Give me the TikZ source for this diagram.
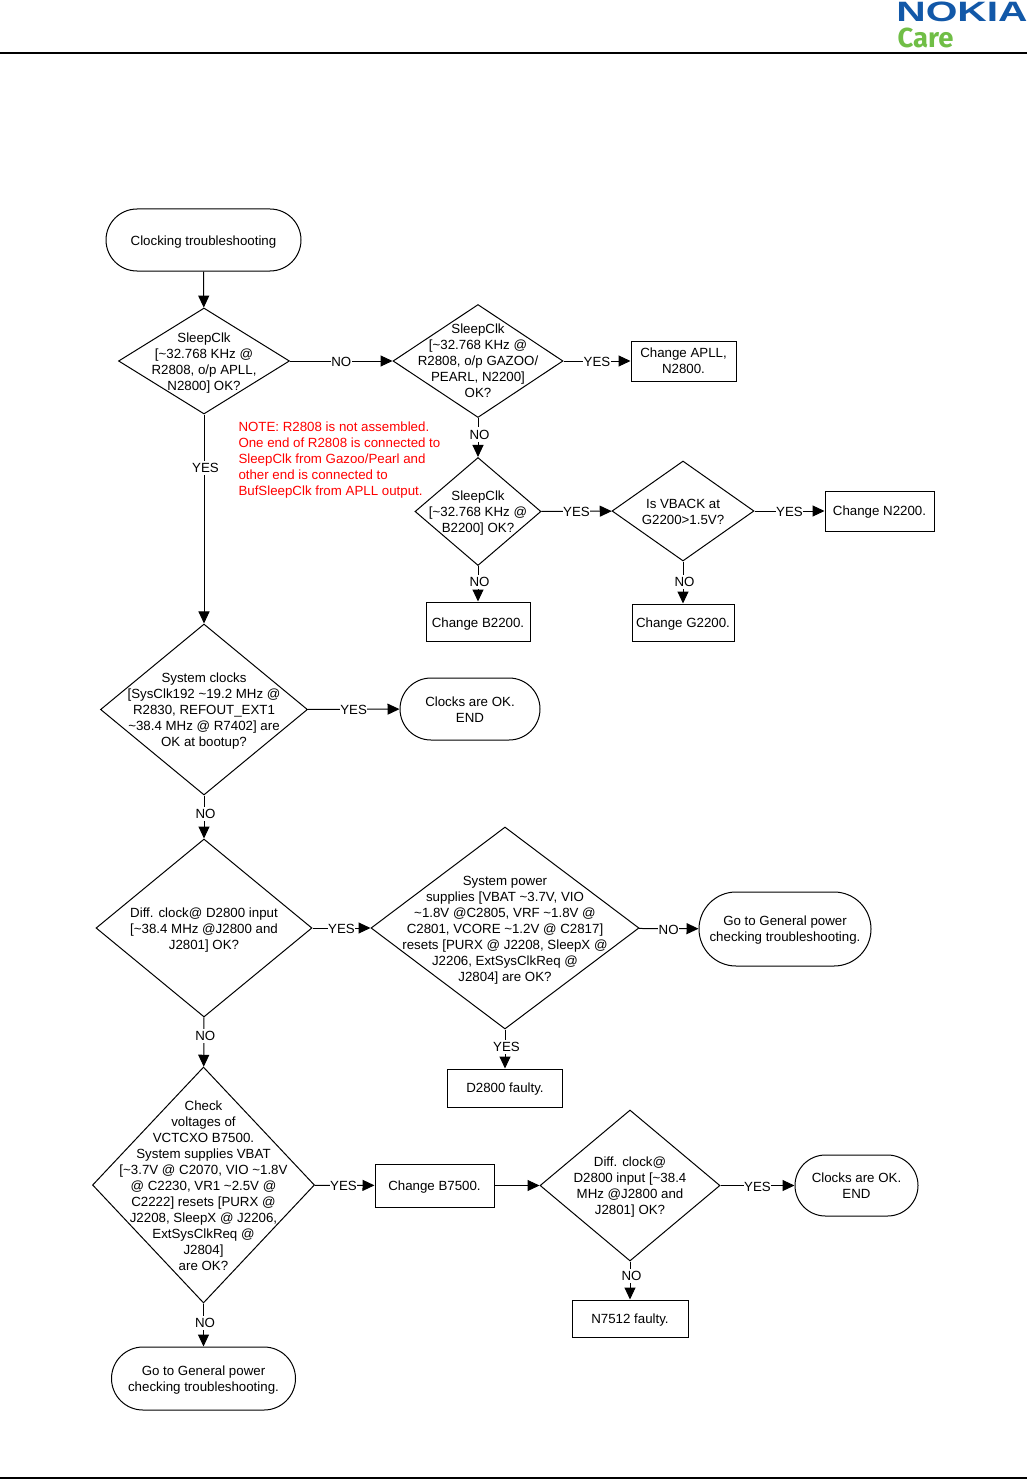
\documentclass[tikz,border=0pt]{standalone}
\usepackage{fontspec}
\setmainfont{Liberation Sans}
\newfontfamily\carefont{Fira Sans}
\usetikzlibrary{shapes.geometric,shapes.misc,arrows.meta}
\definecolor{nokiablue}{RGB}{18,88,168}
\definecolor{caregreen}{RGB}{112,190,70}
\tikzset{
  x=1pt,y=-1pt,
  every node/.style={font=\fontsize{13.3}{16}\selectfont,align=center,inner sep=0pt,line width=1pt},
  txt/.style={align=center,inner sep=0pt,yshift={(#1-1.5)*1pt}},
  dia/.style n args={4}{diamond,draw,minimum width=#1,minimum height=#2,
     label={[txt=#3]center:#4}},
  box/.style n args={4}{rectangle,draw,minimum width=#1,minimum height=#2,
     label={[txt=#3]center:#4}},
  term/.style n args={4}{rounded rectangle,draw,minimum width=#1,minimum height=#2,rounded rectangle arc length=180,
     label={[txt=#3]center:#4}},
  flow/.style={line width=1pt,-{Triangle[length=12pt,width=11pt]}},
  lab/.style={fill=white,inner xsep=0.5pt,inner ysep=0.5pt,yshift=-1pt},
  vlab/.style={lab,xshift=1.5pt,inner ysep=2.5pt},
  note/.style={text=red,align=left,anchor=north west},
  rulebar/.style={line width=2pt}
}
\begin{document}
\begin{tikzpicture}
\useasboundingbox (0,0) rectangle (1027,1479);
\fill[white] (0,0) rectangle (1027,1479);
% header / footer
\coordinate (tl) at (0,53); \coordinate (tr) at (1027,53);
\coordinate (bl) at (0,1478); \coordinate (br) at (1027,1478);
\draw[rulebar] (tl) -- (tr);
\draw[rulebar] (bl) -- (br);
\node[text=nokiablue,font=\fontsize{28}{28}\selectfont\bfseries,anchor=center,xscale=1.455,yscale=1.0] (nokia) at (962,12) {NOKIA};
\node[text=caregreen,font=\fontsize{27.5}{28}\selectfont\carefont\bfseries,anchor=center] (care) at (925.5,38) {Care};
% terminators
\node[term={195}{62}{-1}{Clocking troubleshooting}] (start) at (203.5,240) {};
\node[term={140}{62}{1}{Clocks are OK.\\END}] (ok1) at (470,709) {};
\node[term={172}{74}{0}{Go to General power\\checking troubleshooting.}] (gp1) at (785,929) {};
\node[term={123}{61}{1}{Clocks are OK.\\END}] (ok2) at (856.5,1185.5) {};
\node[term={184}{63}{0}{Go to General power\\checking troubleshooting.}] (gp2) at (203.5,1378.5) {};
% diamonds
\node[dia={171}{106}{-1}{SleepClk\\{}[\textasciitilde32.768 KHz @\\R2808, o/p APLL,\\N2800] OK?}] (a) at (204,361) {};
\node[dia={170}{113}{2}{SleepClk\\{}[\textasciitilde32.768 KHz @\\R2808, o/p GAZOO/\\PEARL, N2200]\\OK?}] (b) at (478,361) {};
\node[dia={126}{108}{0}{SleepClk\\{}[\textasciitilde32.768 KHz @\\B2200] OK?}] (c) at (478,511.5) {};
\node[dia={142}{100}{1}{Is VBACK at\\G2200>1.5V?}] (d) at (683,511) {};
\node[dia={207}{171}{0}{System clocks\\{}[SysClk192 \textasciitilde19.2 MHz @\\R2830, REFOUT\_EXT1\\\textasciitilde38.4 MHz @ R7402] are\\OK at bootup?}] (e) at (204,709.5) {};
\node[dia={216}{178}{-1}{Diff. clock@ D2800 input\\{}[\textasciitilde38.4 MHz @J2800 and\\J2801] OK?}] (f) at (204,928) {};
\node[dia={268}{202}{-1}{System power\\supplies [VBAT \textasciitilde3.7V, VIO\\\textasciitilde1.8V @C2805, VRF \textasciitilde1.8V @\\C2801, VCORE \textasciitilde1.2V @ C2817]\\resets [PURX @ J2208, SleepX @\\J2206, ExtSysClkReq @\\J2804] are OK?}] (g) at (505,928) {};
\node[dia={222}{236}{1}{Check\\voltages of\\VCTCXO B7500.\\System supplies VBAT\\{}[\textasciitilde3.7V @ C2070, VIO \textasciitilde1.8V\\@ C2230, VR1 \textasciitilde2.5V @\\C2222] resets [PURX @\\J2208, SleepX @ J2206,\\ExtSysClkReq @\\J2804]\\are OK?}] (h) at (203.5,1185) {};
\node[dia={180}{151}{0}{Diff. clock@\\D2800 input [\textasciitilde38.4\\MHz @J2800 and\\J2801] OK?}] (i) at (630,1185.5) {};
% boxes
\node[box={105}{40}{2}{Change APLL,\\N2800.}] (r1) at (683.5,361) {};
\node[box={109}{40}{0}{Change N2200.}] (r2) at (879.5,511) {};
\node[box={104}{39}{-1}{Change B2200.}] (r3) at (478,621.5) {};
\node[box={102}{37}{0}{Change G2200.}] (r4) at (683,622.5) {};
\node[box={115}{38}{0}{D2800 faulty.}] (r5) at (505,1088) {};
\node[box={119}{43}{0}{Change B7500.}] (r6) at (434.5,1185.5) {};
\node[box={116}{37}{0}{N7512 faulty.}] (r7) at (630,1318.5) {};
% note
\node[note] (nt) at (238,421) {NOTE: R2808 is not assembled.\\One end of R2808 is connected to\\SleepClk from Gazoo/Pearl and\\other end is connected to\\BufSleepClk from APLL output.};
% connectors
\draw[flow] (start) -- (a);
\draw[flow] (a) -- node[lab,pos=.5]{NO} (b);
\draw[flow] (a) -- node[vlab,pos=.25]{YES} (e);
\draw[flow] (b) -- node[lab,pos=.5]{YES} (r1);
\draw[flow] (b) -- node[vlab,pos=.4]{NO} (c);
\draw[flow] (c) -- node[lab,pos=.5]{YES} (d);
\draw[flow] (c) -- node[vlab,pos=.42]{NO} (r3);
\draw[flow] (d) -- node[lab,pos=.5]{YES} (r2);
\draw[flow] (d) -- node[vlab,pos=.47]{NO} (r4);
\draw[flow] (e) -- node[lab,pos=.5]{YES} (ok1);
\draw[flow] (e) -- node[vlab,pos=.41]{NO} (f);
\draw[flow] (f) -- node[lab,pos=.5]{YES} (g);
\draw[flow] (f) -- node[vlab,pos=.36]{NO} (h);
\draw[flow] (g) -- node[lab,pos=.5]{NO} (gp1);
\draw[flow] (g) -- node[vlab,pos=.42]{YES} (r5);
\draw[flow] (h) -- node[lab,pos=.48]{YES} (r6);
\draw[flow] (h) -- node[vlab,pos=.43]{NO} (gp2);
\draw[flow] (r6) -- (i);
\draw[flow] (i) -- node[lab,pos=.5]{YES} (ok2);
\draw[flow] (i) -- node[vlab,pos=.36]{NO} (r7);
\end{tikzpicture}
\end{document}
